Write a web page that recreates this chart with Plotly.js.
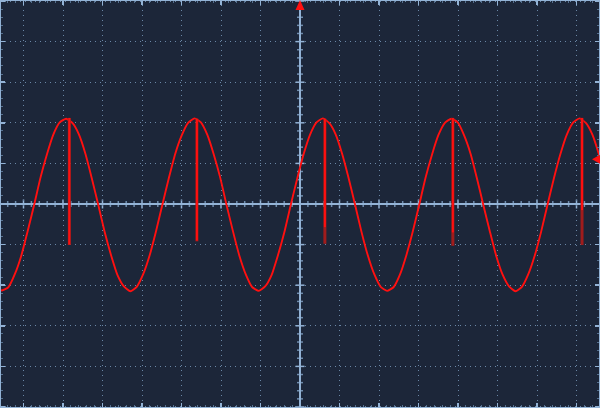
<!DOCTYPE html>
<html>
<head>
<meta charset="utf-8">
<script src="https://cdn.plot.ly/plotly-3.0.1.min.js"></script>
<style>
html,body{margin:0;padding:0;background:#1c2639;}
#chart{width:600px;height:408px;}
</style>
</head>
<body>
<div id="chart"></div>
<script>
// Time (divisions) of each sample
var timeDiv = [
 -7.708,-7.545,-7.383,-7.22,-7.058,-6.895,-6.733,-6.57,-6.408,-6.245,
 -6.083,-5.92,-5.758,-5.595,-5.433,-5.27,-5.108,-4.945,-4.783,-4.62,
 -4.458,-4.295,-4.133,-3.97,-3.808,-3.645,-3.483,-3.32,-3.158,-2.995,
 -2.833,-2.67,-2.508,-2.345,-2.183,-2.02,-1.858,-1.695,-1.533,-1.37,
 -1.208,-1.045,-0.883,-0.72,-0.558,-0.395,-0.233,-0.07,0.093,0.255,
 0.418,0.58,0.743,0.905,1.068,1.23,1.393,1.555,1.718,1.88,
 2.043,2.205,2.368,2.53,2.693,2.855,3.018,3.18,3.343,3.505,
 3.668,3.83,3.993,4.155,4.318,4.48,4.643,4.805,4.968,5.13,
 5.293,5.455,5.618,5.78,5.943,6.105,6.268,6.43,6.593,6.755,
 6.918,7.08,7.243,7.405,7.568,7.73
];
// Signal level (divisions)
var signalDiv = [
 -2.04,-2.13,-2.05,-1.73,-1.28,-0.67,-0.03,0.65,1.22,1.71,
 2.01,2.10,1.99,1.71,1.24,0.63,-0.02,-0.69,-1.26,-1.75,
 -2.03,-2.15,-2.04,-1.73,-1.27,-0.67,-0.01,0.64,1.24,1.69,
 2.00,2.11,2.01,1.70,1.22,0.65,-0.03,-0.68,-1.28,-1.74,
 -2.05,-2.14,-2.03,-1.75,-1.26,-0.69,-0.02,0.63,1.23,1.71,
 2.01,2.11,1.99,1.71,1.23,0.64,-0.01,-0.68,-1.27,-1.73,
 -2.04,-2.14,-2.05,-1.74,-1.26,-0.68,-0.02,0.65,1.22,1.70,
 2.00,2.10,2.01,1.69,1.24,0.63,-0.03,-0.67,-1.28,-1.74,
 -2.03,-2.15,-2.04,-1.73,-1.27,-0.68,-0.01,0.64,1.23,1.71,
 2.01,2.11,1.99,1.70,1.22,0.64
];
// Glitch spikes near each peak
var spikeTime = [-5.84, -2.61, 0.63, 3.87, 7.14];
var spikeTop = [2.12, 2.10, 2.10, 2.12, 2.12];
var spikeBottom = [-1.01, -0.92, -0.98, -1.03, -1.01];
var spikeBrightBottom = [-1.0, -0.9, -0.57, -0.7, -0.15];
// Trigger settings
var triggerTime = 0;
var triggerLevel = 1.1;

var XR = 7.595, YR = 5.025;
var axisCol = '#93b3d6', gridCol = '#6a87a6', minorCol = '#55708f';

function segs(xs, y0s, y1s) {
  var x = [], y = [];
  for (var i = 0; i < xs.length; i++) {
    x.push(xs[i], xs[i], null);
    y.push(y0s[i], y1s[i], null);
  }
  return {x: x, y: y};
}
var dark = segs(spikeTime, spikeTop, spikeBottom);
var bright = segs(spikeTime, spikeTop, spikeBrightBottom);

var traces = [
  {x: timeDiv, y: signalDiv, mode: 'lines', line: {color: '#ff1010', width: 1.9, shape: 'spline', smoothing: 0.5}, hoverinfo: 'skip'},
  {x: dark.x, y: dark.y, mode: 'lines', line: {color: '#a01c1c', width: 3}, hoverinfo: 'skip', connectgaps: false},
  {x: bright.x, y: bright.y, mode: 'lines', line: {color: '#ff1010', width: 2}, hoverinfo: 'skip', connectgaps: false}
];

var shapes = [];
// center-axis tick marks
for (var i = -38; i <= 38; i++) {
  var v = i / 5, major = (i % 5 === 0);
  shapes.push({type: 'line', xref: 'x', yref: 'y', ysizemode: 'pixel', yanchor: 0,
    x0: v, x1: v, y0: major ? -4.5 : -3, y1: major ? 4.5 : 3,
    line: {color: major ? axisCol : '#6f8cad', width: 1.5}, layer: 'below'});
}
for (var j = -25; j <= 25; j++) {
  var w = j / 5, maj = (j % 5 === 0);
  shapes.push({type: 'line', xref: 'x', yref: 'y', xsizemode: 'pixel', xanchor: 0,
    y0: w, y1: w, x0: maj ? -4.5 : -3, x1: maj ? 4.5 : 3,
    line: {color: maj ? axisCol : '#6f8cad', width: 1.5}, layer: 'below'});
}
// frame
shapes.push({type: 'rect', xref: 'paper', yref: 'paper', x0: 0, x1: 1, y0: 0, y1: 1,
  line: {color: axisCol, width: 2}, fillcolor: 'rgba(0,0,0,0)'});
// trigger position arrow (top)
shapes.push({type: 'path', xref: 'x', yref: 'paper', xsizemode: 'pixel', ysizemode: 'pixel',
  xanchor: triggerTime, yanchor: 1, path: 'M -4.5,-10 L 4.5,-10 L 0,0 Z',
  fillcolor: '#ff1010', line: {width: 0}});
// trigger level arrow (right)
shapes.push({type: 'path', xref: 'paper', yref: 'y', xsizemode: 'pixel', ysizemode: 'pixel',
  xanchor: 1, yanchor: triggerLevel, path: 'M -8,0 L 0,4.5 L 0,-4.5 Z',
  fillcolor: '#ff1010', line: {width: 0}});

var axBase = {
  showticklabels: false, ticks: 'inside', ticklen: 5, tickwidth: 1.5, tickcolor: axisCol,
  dtick: 1, tick0: 0, mirror: 'allticks', showline: false,
  showgrid: true, gridcolor: gridCol, gridwidth: 1, griddash: '1px,4px',
  zeroline: true, zerolinecolor: axisCol, zerolinewidth: 1.5,
  minor: {ticks: 'inside', ticklen: 3, tickwidth: 1, tickcolor: minorCol, dtick: 0.2, showgrid: false},
  fixedrange: true
};
var layout = {
  width: 600, height: 408,
  margin: {l: 0, r: 0, t: 0, b: 0},
  paper_bgcolor: '#1c2639', plot_bgcolor: '#1c2639',
  showlegend: false,
  xaxis: Object.assign({}, axBase, {range: [-XR, XR]}),
  yaxis: Object.assign({}, axBase, {range: [-YR, YR]}),
  shapes: shapes
};
Plotly.newPlot('chart', traces, layout, {staticPlot: true, displayModeBar: false});
</script>
</body>
</html>
